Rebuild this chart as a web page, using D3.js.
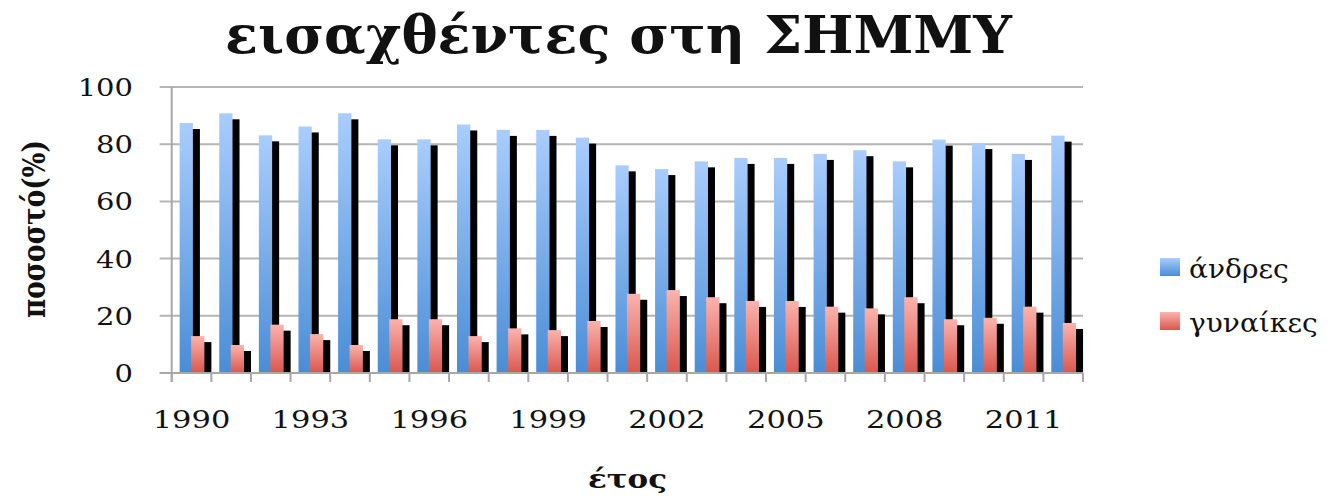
<!DOCTYPE html>
<html>
<head>
<meta charset="utf-8">
<title>εισαχθέντες στη ΣΗΜΜΥ</title>
<script src="https://cdn.jsdelivr.net/npm/d3@7"></script>
<style>
  body { margin: 0; background: #fff; }
  text { font-family: "DejaVu Serif", serif; fill: #111; }
</style>
</head>
<body>
<div id="chart"></div>
<script>
// data
var years = d3.range(1990, 2013);
var tickYears = [1990, 1993, 1996, 1999, 2002, 2005, 2008, 2011];
var men = [87.4, 90.8, 83.1, 86.2, 90.8, 81.7, 81.7, 86.9, 85.0, 85.0, 82.3, 72.6,
           71.3, 74.0, 75.2, 75.2, 76.6, 77.9, 74.0, 81.6, 80.4, 76.6, 83.0];
var women = [12.9, 9.8, 16.9, 13.6, 9.8, 18.8, 18.8, 12.9, 15.6, 15.0, 18.2, 27.7,
             29.0, 26.5, 25.2, 25.2, 23.2, 22.6, 26.5, 18.8, 19.3, 23.2, 17.5];
var seriesNames = ["άνδρες", "γυναίκες"];
var yTicks = [0, 20, 40, 60, 80, 100];

var width = 1336, height = 496;
var plotL = 171.7, plotR = 1083, plotT = 87, plotB = 373;

var svg = d3.select("#chart").append("svg")
    .attr("width", width)
    .attr("height", height);

var defs = svg.append("defs");
function grad(id, c1, c2) {
  var g = defs.append("linearGradient").attr("id", id)
      .attr("x1", 0).attr("y1", 0).attr("x2", 0).attr("y2", 1);
  g.append("stop").attr("offset", "0%").attr("stop-color", c1);
  g.append("stop").attr("offset", "100%").attr("stop-color", c2);
}
grad("gBlue", "#a9cdfd", "#4a8dd6");
grad("gRed", "#fbb3ae", "#d9574e");
defs.append("clipPath").attr("id", "plotClip")
  .append("rect").attr("x", plotL).attr("y", 0).attr("width", plotR - plotL + 20).attr("height", plotB);
defs.append("filter").attr("id", "soft")
  .append("feGaussianBlur").attr("stdDeviation", 0.6);

var x = d3.scaleBand().domain(years).range([plotL, plotR]).padding(0);
var y = d3.scaleLinear().domain([0, 100]).range([plotB, plotT]);
var bw = x.bandwidth();

// gridlines
svg.append("g").selectAll("line")
  .data(yTicks)
  .enter().append("line")
    .attr("x1", plotL - 12).attr("x2", plotR)
    .attr("y1", function(d) { return y(d); })
    .attr("y2", function(d) { return y(d); })
    .attr("stroke", "#b5b5b5")
    .attr("stroke-width", 2);

// y axis line
svg.append("line")
  .attr("x1", plotL).attr("x2", plotL).attr("y1", plotT).attr("y2", plotB + 9)
  .attr("stroke", "#a8a8a8").attr("stroke-width", 2);

// x ticks at category boundaries
svg.append("g").selectAll("line")
  .data(years.concat(["end"]))
  .enter().append("line")
    .attr("x1", function(d) { return d === "end" ? plotR : x(d); })
    .attr("x2", function(d) { return d === "end" ? plotR : x(d); })
    .attr("y1", plotB).attr("y2", plotB + 9)
    .attr("stroke", "#a8a8a8").attr("stroke-width", 2);

// bars, each with its black drop shadow
var bars = svg.append("g");
var sdx = 7, sdy = 6;

years.forEach(function(yr, i) {
  var bx = x(yr) + bw * 0.2;
  var rx = x(yr) + bw * 0.49;
  var w = bw * 0.335;
  var g = bars.append("g");
  g.append("g").attr("clip-path", "url(#plotClip)")
    .append("rect")
      .attr("x", bx + sdx).attr("y", y(men[i]) + sdy)
      .attr("width", w).attr("height", plotB - y(men[i]))
      .attr("fill", "#000").attr("filter", "url(#soft)");
  g.append("rect")
    .attr("x", bx).attr("y", y(men[i]))
    .attr("width", w).attr("height", plotB - y(men[i]))
    .attr("fill", "url(#gBlue)");
  g.append("g").attr("clip-path", "url(#plotClip)")
    .append("rect")
      .attr("x", rx + sdx).attr("y", y(women[i]) + sdy)
      .attr("width", w).attr("height", plotB - y(women[i]))
      .attr("fill", "#000").attr("filter", "url(#soft)");
  g.append("rect")
    .attr("x", rx).attr("y", y(women[i]))
    .attr("width", w).attr("height", plotB - y(women[i]))
    .attr("fill", "url(#gRed)");
});

// x axis line over the bars
svg.append("line")
  .attr("x1", plotL - 12).attr("x2", plotR).attr("y1", plotB).attr("y2", plotB)
  .attr("stroke", "#a8a8a8").attr("stroke-width", 2);

// y tick labels (picture is stretched sideways, so scale x)
svg.append("g").selectAll("text")
  .data(yTicks)
  .enter().append("text")
    .attr("transform", function(d) { return "translate(133," + (y(d) + 9) + ") scale(1.16,1)"; })
    .attr("text-anchor", "end")
    .attr("font-size", 25)
    .text(function(d) { return d; });

// x tick labels
svg.append("g").selectAll("text")
  .data(tickYears)
  .enter().append("text")
    .attr("transform", function(d) { return "translate(" + (x(d) + bw / 2) + ",428) scale(1.22,1)"; })
    .attr("text-anchor", "middle")
    .attr("font-size", 25)
    .text(function(d) { return d; });

// title
svg.append("text")
  .attr("x", 225).attr("y", 53)
  .attr("font-size", 52).attr("font-weight", "bold")
  .attr("textLength", 787).attr("lengthAdjust", "spacingAndGlyphs")
  .text("εισαχθέντες στη ΣΗΜΜΥ");

// axis titles
svg.append("text")
  .attr("x", 627.5).attr("y", 488)
  .attr("text-anchor", "middle")
  .attr("font-size", 26).attr("font-weight", "bold")
  .attr("textLength", 79).attr("lengthAdjust", "spacingAndGlyphs")
  .text("έτος");

svg.append("text")
  .attr("transform", "translate(45,229) scale(1.25,1) rotate(-90)")
  .attr("text-anchor", "middle")
  .attr("font-size", 25).attr("font-weight", "bold")
  .attr("textLength", 178).attr("lengthAdjust", "spacingAndGlyphs")
  .text("ποσοστό(%)");

// legend
var legend = svg.append("g");
var legendFill = ["url(#gBlue)", "url(#gRed)"];
var legendY = [258, 312];
seriesNames.forEach(function(name, i) {
  legend.append("rect")
    .attr("x", 1160).attr("y", legendY[i])
    .attr("width", 20).attr("height", 18)
    .attr("fill", legendFill[i]);
  legend.append("text")
    .attr("transform", "translate(1189," + (legendY[i] + 20) + ") scale(1.08,1)")
    .attr("font-size", 26)
    .text(name);
});
</script>
</body>
</html>
